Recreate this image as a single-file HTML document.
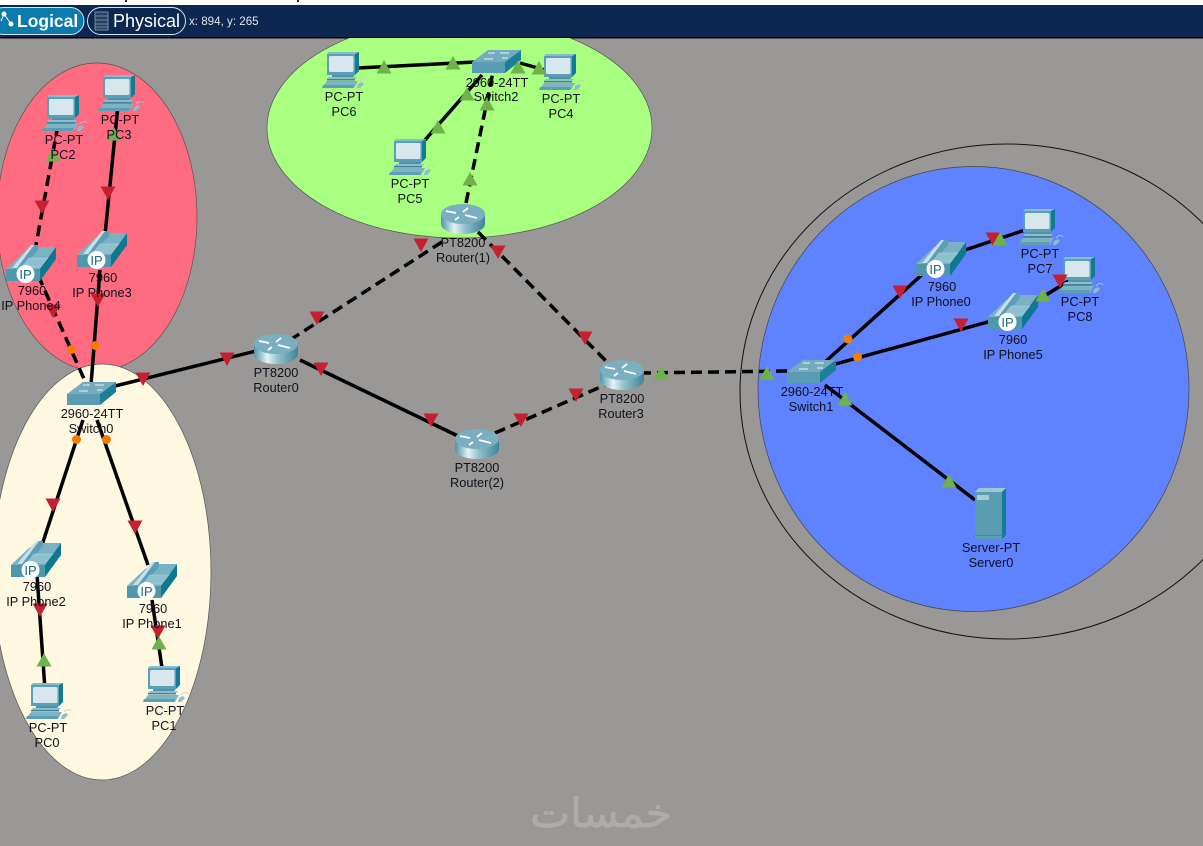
<!DOCTYPE html>
<html><head><meta charset="utf-8"><style>
html,body{margin:0;padding:0;background:#9a9896;width:1203px;height:846px;overflow:hidden}
svg{display:block}
text{font-family:"Liberation Sans",sans-serif;font-size:12.8px;fill:#10101c;text-anchor:middle}
.l{stroke:#000;stroke-width:3.5;fill:none}
.d{stroke:#000;stroke-width:3.5;fill:none;stroke-dasharray:11 6}
</style></head><body>
<svg width="1203" height="846" viewBox="0 0 1203 846" xmlns="http://www.w3.org/2000/svg">
<defs>
<linearGradient id="rg" x1="0" x2="1" y1="0" y2="0"><stop offset="0" stop-color="#4f93a8"/><stop offset=".3" stop-color="#e6f2f4"/><stop offset=".55" stop-color="#8fc0cd"/><stop offset="1" stop-color="#3f8398"/></linearGradient>
<symbol id="pc" width="46" height="38" overflow="visible">
<polygon points="5,2 7,0 37,0 33,2" fill="#86bccb"/>
<polygon points="33,2 37,0 37,19 33,23" fill="#127a94"/>
<rect x="5" y="2" width="28" height="21" fill="#5a9fb5"/>
<rect x="7" y="4" width="24.500" height="16" rx="1.500" fill="#d8e6ee"/>
<polygon points="10,23 33,23 31,25 10,25" fill="#4f93a8"/>
<polygon points="7,25 35,25 33,27 5,27" fill="#8fbccb"/>
<polygon points="5,27 33,27 33,28.500 5,28.500" fill="#3f8398"/>
<polygon points="5,29 36,29 32,36 0,36" fill="#7fb3c4"/>
<polygon points="1,33 32,33 31,36 0,36" fill="#5a9fb5"/>
<polygon points="36,32 40,30 42,32 38,36 35,36" fill="#8fbccb"/>
<path d="M38,29c2-3 6-3 7-1" fill="none" stroke="#b5cdd5" stroke-width=".8"/>
</symbol>
<symbol id="ph" width="52" height="40" overflow="visible">
<polygon points="0,25 18,8 28,3 50,3 34,25" fill="#78b2c3"/>
<polygon points="34,25 50,3 50,15 34,37" fill="#0f7891"/>
<rect x="0" y="25" width="34" height="12" fill="#4f97ad"/>
<polygon points="6,24 26,1 32,1 32,6 14,26" fill="#5a9fb5"/>
<polygon points="6,24 25,1 28,1 11,24" fill="#c9e0e8"/>
<polygon points="23,14 42,14 34,23 16,23" fill="#8fc0cf" stroke="#b7d6df" stroke-width=".5"/>
<circle cx="19.500" cy="30" r="9" fill="#fff"/>
<text x="19.500" y="35" style="font-size:13px;fill:#146b84">IP</text>
</symbol>
<symbol id="rt" width="46" height="32" overflow="visible">
<path d="M0,10V20A22,10 0 0 0 44,20V10Z" fill="url(#rg)"/>
<ellipse cx="22" cy="10" rx="22" ry="10" fill="#79afc0"/>
<path d="M5,7l10,2M27,4l-5,4M24,11l12,3M18,13l-4,3" stroke="#fff" stroke-width="1.800" fill="none"/>
</symbol>
<symbol id="sw" width="50" height="24" overflow="visible">
<polygon points="0,12 16,0 49,0 33,12" fill="#74acbe"/>
<polygon points="33,12 49,0 49,10 33,23" fill="#1a7f98"/>
<rect x="0" y="12" width="33" height="11" fill="#5a9db3"/>
<path d="M12,9h9M28,3h9M16,3h7M30,8h6" stroke="#e5f2f5" stroke-width="1"/>
</symbol>
<polygon id="r" points="-7.500,-6.500 7.500,-6.500 0,7" fill="#c5202f"/>
<polygon id="g" points="-7.500,6.500 7.500,6.500 0,-7" fill="#6db34a"/>
</defs>

<rect width="1203" height="846" fill="#9a9896"/>
<rect width="1203" height="5" fill="#fff"/>
<rect x="125" y="0" width="2" height="2" fill="#222"/><rect x="297" y="0" width="2" height="2" fill="#222"/>
<rect y="5" width="1203" height="32" fill="#0c2850"/>
<rect y="37" width="1203" height="1.500" fill="#000"/>
<rect x="-10" y="7.500" width="94" height="27" rx="13.500" fill="#0a7bad" stroke="#d8e8f0"/>
<rect x="87.500" y="7.500" width="98" height="27" rx="13.500" fill="#0c2850" stroke="#d8e8f0"/>
<path d="M1,21L4,14L11,24" stroke="#fff" fill="none"/><circle cx="4" cy="14" r="2.500" fill="#fff"/><circle cx="11" cy="24" r="2.500" fill="#fff"/>
<text x="17" y="27" style="font-size:17.500px;font-weight:bold;fill:#fff;text-anchor:start">Logical</text>
<rect x="95" y="12" width="13" height="18" fill="#26405f" stroke="#8ea0b4" stroke-width=".8"/>
<path d="M95,16h13M95,20h13M95,24h13M95,27h13" stroke="#8ea0b4" stroke-width=".7"/>
<text x="113" y="27" style="font-size:18px;fill:#fff;text-anchor:start">Physical</text>
<text x="189" y="25" style="font-size:11.600px;fill:#dfe5ec;text-anchor:start">x: 894, y: 265</text>

<svg x="0" y="38" width="1203" height="808" viewBox="0 38 1203 808" overflow="hidden">
<ellipse cx="97" cy="217" rx="100" ry="154" fill="#ff6b80" stroke="#555" stroke-width=".7"/>
<ellipse cx="102" cy="572" rx="109" ry="208" fill="#fff8e1" stroke="#555" stroke-width=".7"/>
<ellipse cx="459.500" cy="128" rx="192.500" ry="110" fill="#a8ff80" stroke="#555" stroke-width=".7"/>
<ellipse cx="1007" cy="391.500" rx="267" ry="247.500" fill="none" stroke="#111" stroke-width="1"/>
<ellipse cx="973.500" cy="389" rx="215.500" ry="222.500" fill="#5f82ff" stroke="#444" stroke-width=".7"/>
</svg>

<text x="601" y="827" style="font-family:'DejaVu Sans',sans-serif;font-size:40px;fill:#aeaca9;stroke:#aeaca9;stroke-width:.8" textLength="142" lengthAdjust="spacingAndGlyphs">خمسات</text>

<line class="l" x1="118" y1="105" x2="105" y2="235"/>
<line class="d" x1="58" y1="125" x2="36" y2="245"/>
<line class="d" x1="38" y1="275" x2="88" y2="388"/>
<line class="l" x1="100" y1="270" x2="91" y2="385"/>
<line class="l" x1="115" y1="386" x2="260" y2="350"/>
<line class="d" x1="290" y1="340" x2="445" y2="240"/>
<line class="l" x1="300" y1="360" x2="460" y2="437"/>
<line class="d" x1="495" y1="433" x2="605" y2="385"/>
<line class="d" x1="478" y1="232" x2="610" y2="365"/>
<line class="d" x1="640" y1="373" x2="790" y2="371"/>
<line class="l" x1="825" y1="362" x2="925" y2="272"/>
<line class="l" x1="965" y1="250" x2="1025" y2="230"/>
<line class="l" x1="832" y1="365" x2="995" y2="320"/>
<line class="l" x1="1030" y1="305" x2="1070" y2="280"/>
<line class="l" x1="825" y1="385" x2="975" y2="500"/>
<line class="l" x1="83" y1="420" x2="42" y2="545"/>
<line class="l" x1="97" y1="420" x2="148" y2="565"/>
<line class="l" x1="37" y1="575" x2="45" y2="690"/>
<line class="l" x1="152" y1="600" x2="162" y2="668"/>
<line class="l" x1="358" y1="68" x2="475" y2="62"/>
<line class="l" x1="520" y1="63" x2="545" y2="70"/>
<line class="l" x1="425" y1="140" x2="482" y2="75"/>
<line class="d" x1="466" y1="203" x2="493" y2="72"/>

<use href="#pc" x="98" y="75"/><use href="#pc" x="42" y="95"/><use href="#pc" x="322" y="52"/>
<use href="#pc" x="539" y="54"/><use href="#pc" x="389" y="139"/><use href="#pc" x="1018" y="209"/>
<use href="#pc" x="1058" y="257"/><use href="#pc" x="26" y="683"/><use href="#pc" x="143" y="666"/>
<use href="#ph" x="77" y="230"/><use href="#ph" x="6" y="244"/><use href="#ph" x="11" y="540"/>
<use href="#ph" x="127" y="561"/><use href="#ph" x="916" y="239"/><use href="#ph" x="988" y="292"/>
<use href="#rt" x="441" y="204"/><use href="#rt" x="254" y="334"/><use href="#rt" x="455" y="429"/><use href="#rt" x="600" y="360"/>
<use href="#sw" x="67" y="382"/><use href="#sw" x="472" y="50"/><use href="#sw" x="787" y="360"/>

<polygon points="975,492 979,488 1006,488 1002,492" fill="#9cc8d4"/>
<polygon points="1002,492 1006,488 1006,535 1002,539" fill="#0f7d92"/>
<rect x="975" y="492" width="27" height="47" fill="#5a9db1"/>
<rect x="977" y="495" width="12" height="5" fill="#a4cdd8"/>
<rect x="975" y="535" width="27" height=".8" fill="#3f8398"/>

<g>
<use href="#r" x="42" y="207"/><use href="#r" x="108" y="193"/><use href="#r" x="53" y="311"/><use href="#r" x="98" y="300"/>
<use href="#r" x="143" y="379"/><use href="#r" x="227" y="359"/><use href="#r" x="317" y="318"/><use href="#r" x="421" y="245"/>
<use href="#r" x="321" y="369"/><use href="#r" x="431" y="420"/><use href="#r" x="521" y="420"/><use href="#r" x="576" y="395"/>
<use href="#r" x="498" y="252"/><use href="#r" x="585" y="338"/><use href="#r" x="900" y="292"/><use href="#r" x="993" y="239"/>
<use href="#r" x="961" y="325"/><use href="#r" x="1060" y="281"/><use href="#r" x="53" y="505"/><use href="#r" x="135" y="527"/>
<use href="#r" x="40" y="610"/><use href="#r" x="158" y="632"/>
<use href="#g" x="53" y="155"/><use href="#g" x="114" y="134"/><use href="#g" x="384" y="67"/><use href="#g" x="453" y="63"/>
<use href="#g" x="467" y="94"/><use href="#g" x="438" y="127"/><use href="#g" x="487" y="104"/><use href="#g" x="470" y="179"/>
<use href="#g" x="518" y="67"/><use href="#g" x="539" y="68"/><use href="#g" x="661" y="373"/><use href="#g" x="767" y="373"/>
<use href="#g" x="845" y="399"/><use href="#g" x="949" y="481"/><use href="#g" x="1000" y="239"/><use href="#g" x="1043" y="295"/>
<use href="#g" x="44" y="660"/><use href="#g" x="159" y="643"/>
</g>
<g fill="#f57c00">
<circle cx="71.500" cy="349.500" r="4.500"/><circle cx="95.500" cy="345.500" r="4.500"/><circle cx="76.500" cy="439.500" r="4.500"/>
<circle cx="106.500" cy="439.500" r="4.500"/><circle cx="848" cy="339" r="4.500"/><circle cx="857.500" cy="357" r="4.500"/>
</g>

<text x="120" y="124">PC-PT</text><text x="119" y="139">PC3</text>
<text x="64" y="144">PC-PT</text><text x="63" y="159">PC2</text>
<text x="344" y="101">PC-PT</text><text x="344" y="116">PC6</text>
<text x="410" y="188">PC-PT</text><text x="410" y="203">PC5</text>
<text x="561" y="103">PC-PT</text><text x="561" y="118">PC4</text>
<text x="497" y="87">2960-24TT</text><text x="496" y="101">Switch2</text>
<text x="463" y="247">PT8200</text><text x="463" y="262">Router(1)</text>
<text x="276" y="377">PT8200</text><text x="276" y="392">Router0</text>
<text x="477" y="472">PT8200</text><text x="477" y="487">Router(2)</text>
<text x="622" y="403">PT8200</text><text x="621" y="418">Router3</text>
<text x="812" y="396">2960-24TT</text><text x="811" y="411">Switch1</text>
<text x="92" y="418">2960-24TT</text><text x="91" y="433">Switch0</text>
<text x="32" y="295">7960</text><text x="31" y="310">IP Phone4</text>
<text x="103" y="282">7960</text><text x="102" y="297">IP Phone3</text>
<text x="37" y="591">7960</text><text x="36" y="606">IP Phone2</text>
<text x="153" y="613">7960</text><text x="152" y="628">IP Phone1</text>
<text x="942" y="291">7960</text><text x="941" y="306">IP Phone0</text>
<text x="1013" y="344">7960</text><text x="1013" y="359">IP Phone5</text>
<text x="1040" y="258">PC-PT</text><text x="1040" y="273">PC7</text>
<text x="1080" y="306">PC-PT</text><text x="1080" y="321">PC8</text>
<text x="48" y="732">PC-PT</text><text x="47" y="747">PC0</text>
<text x="165" y="715">PC-PT</text><text x="164" y="730">PC1</text>
<text x="991" y="552">Server-PT</text><text x="991" y="567">Server0</text>
</svg>
</body></html>
